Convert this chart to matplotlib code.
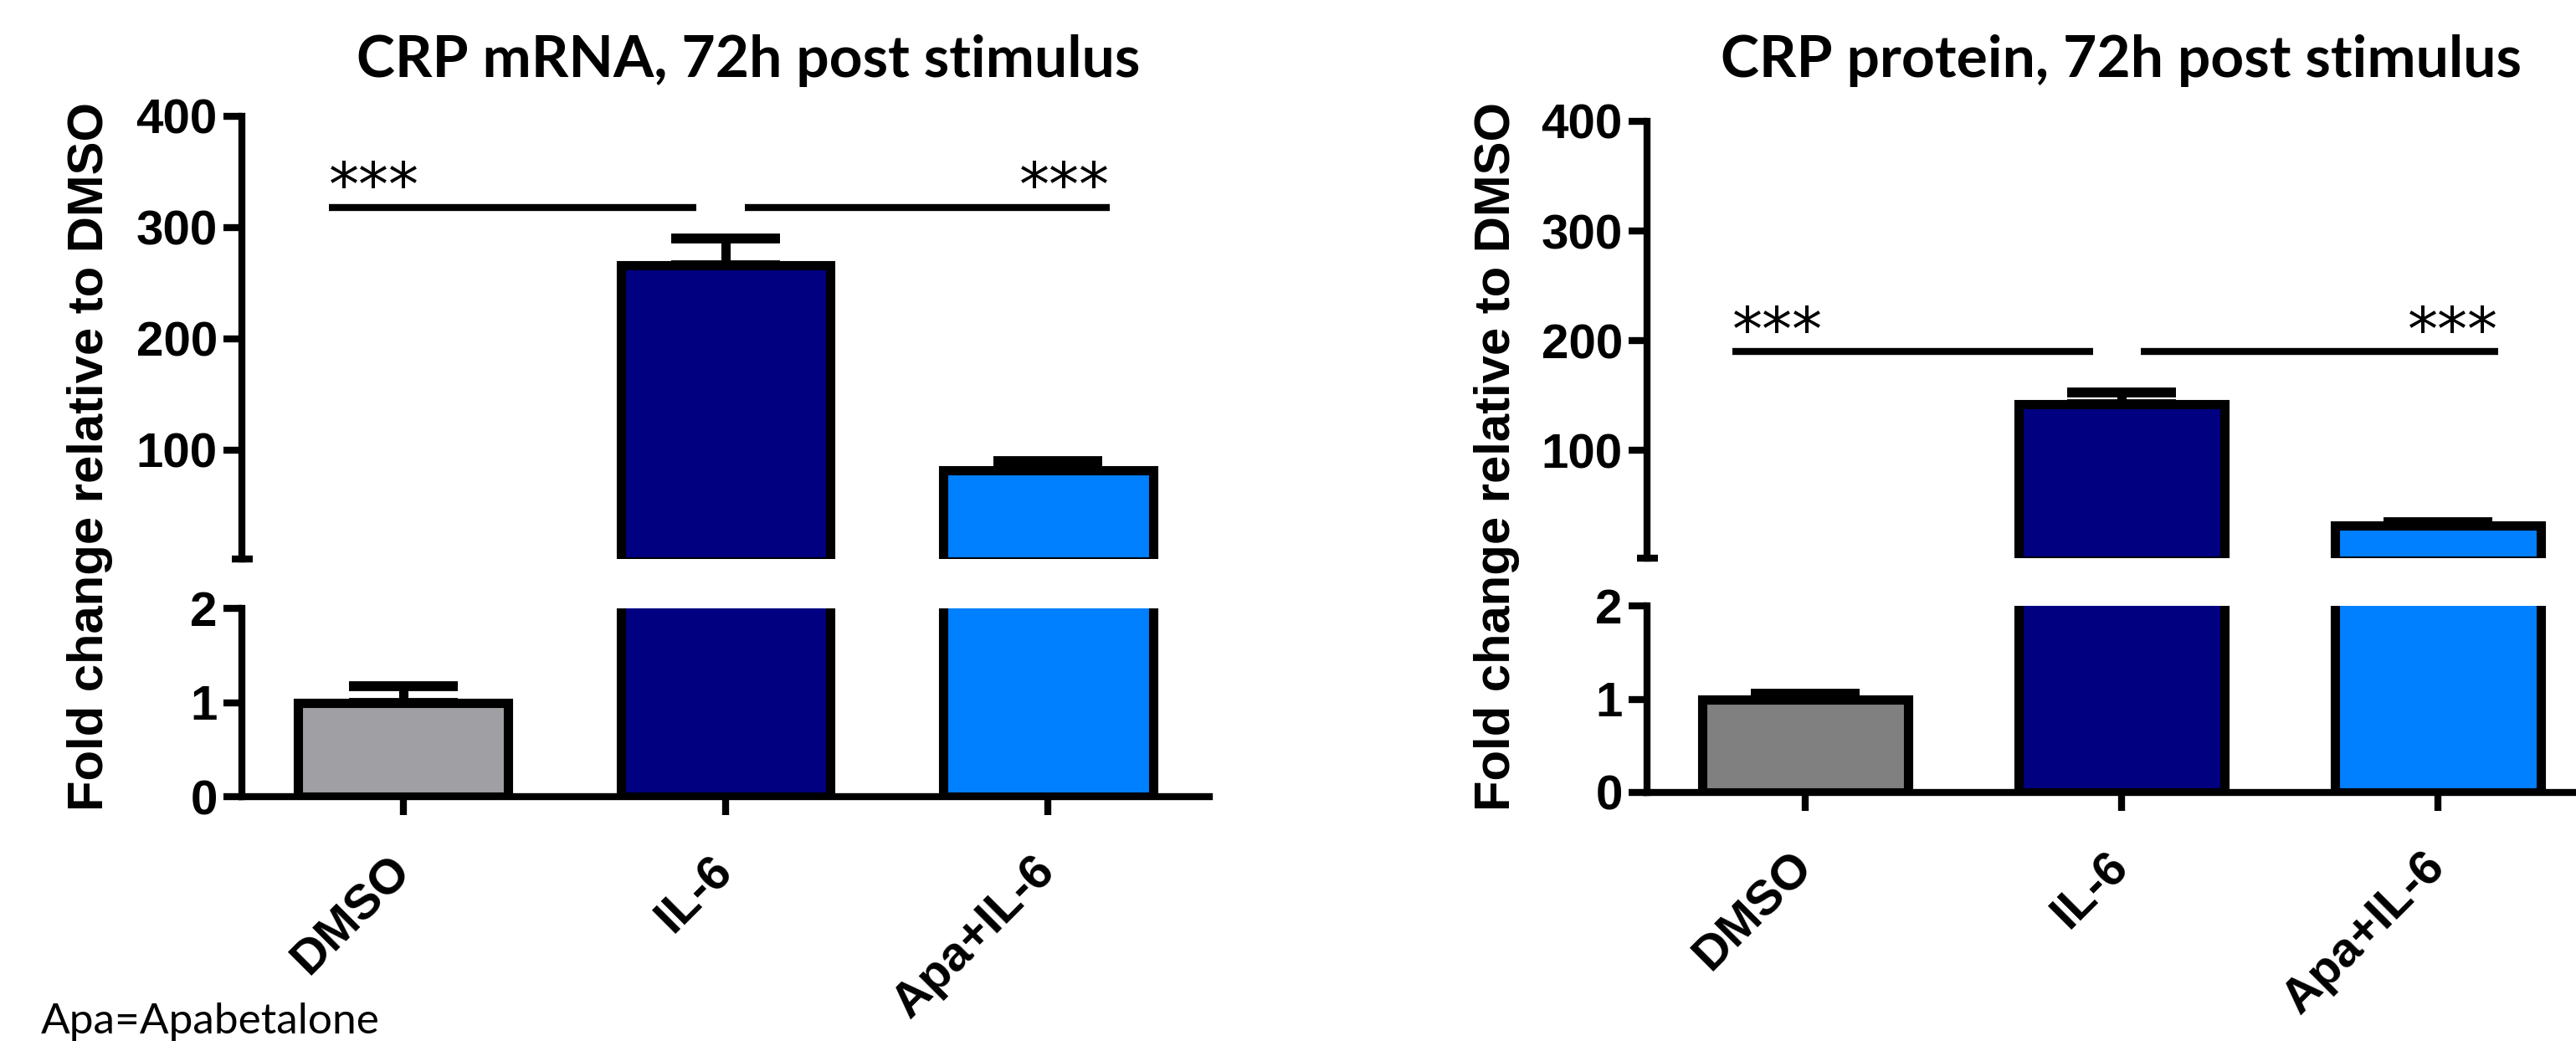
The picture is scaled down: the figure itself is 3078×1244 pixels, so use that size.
import matplotlib
matplotlib.use('Agg')
import matplotlib.pyplot as plt
from matplotlib import font_manager as fm
from matplotlib.ticker import FixedLocator
import numpy as np

# ---------------- data ----------------
groups = ['DMSO', 'IL-6', 'Apa+IL-6']
mrna_mean = [1.0, 266.0, 82.0]
mrna_sem = [0.17, 24.0, 8.0]
protein_mean = [1.0, 142.0, 31.5]
protein_sem = [0.06, 11.0, 3.0]
mrna_colors = ['#A0A0A4', '#000080', '#0080FF']
protein_colors = ['#808080', '#000080', '#0080FF']
upper_ticks = [100, 200, 300, 400]
lower_ticks = [0, 1, 2]
break_value = 2
top_value = 400
titles = ['CRP mRNA, 72h post stimulus', 'CRP protein, 72h post stimulus']
ylabel = 'Fold change relative to DMSO'
sig_label = '***'
sig_pairs = [(0, 1), (1, 2)]
mrna_sig_y = 318
protein_sig_y = 190
footnote = 'Apa=Apabetalone'

# ---------------- fonts ----------------
avail = {f.name for f in fm.fontManager.ttflist}


def pick(*names):
    for n in names:
        if n in avail:
            return n
    return 'DejaVu Sans'


NARROW = pick('Liberation Sans Narrow', 'Liberation Sans')
ARIAL = pick('Liberation Sans', 'DejaVu Sans')
CALIBRI = pick('Lato', 'Open Sans', 'Noto Sans')
ytick_size = 46 if NARROW == 'Liberation Sans Narrow' else 42

# ---------------- layout ----------------
W, H = 3078, 1244
DPI = 100
fig = plt.figure(figsize=(W / DPI, H / DPI), dpi=DPI)


def frac_rect(x0, x1, ytop, ybot):
    return [x0 / W, 1 - ybot / H, (x1 - x0) / W, (ybot - ytop) / H]


panels = [
    dict(x0=289, x1=1445, up=(139, 668), low=(727, 952), title_x=894, ylab_x=108,
         means=mrna_mean, sems=mrna_sem, colors=mrna_colors, sig_y=mrna_sig_y, title=titles[0]),
    dict(x0=1968, x1=3102, up=(145, 667), low=(724, 947), title_x=2535, ylab_x=1788,
         means=protein_mean, sems=protein_sem, colors=protein_colors, sig_y=protein_sig_y, title=titles[1]),
]

LW_AX = 6
for p in panels:
    ax_u = fig.add_axes(frac_rect(p['x0'], p['x1'], *p['up']))
    ax_l = fig.add_axes(frac_rect(p['x0'], p['x1'], *p['low']))
    x = np.arange(len(groups))
    means = np.asarray(p['means'])
    sems = np.asarray(p['sems'])
    colors = np.asarray(p['colors'])

    # lower segment: all bars (clipped at the break)
    # upper segment: only bars that reach above the break
    for ax, mask in ((ax_l, np.ones(len(x), bool)), (ax_u, means > break_value)):
        ax.bar(x[mask], means[mask], width=0.65, color=list(colors[mask]), edgecolor='black',
               linewidth=8, zorder=2)
        ax.errorbar(x[mask], means[mask], yerr=[np.zeros(mask.sum()), sems[mask]], fmt='none',
                    ecolor='black', elinewidth=8, capsize=47, capthick=8.5, zorder=3)
        ax.set_xlim(-0.5, 2.5)
        for s in ('top', 'right'):
            ax.spines[s].set_visible(False)
        ax.spines['left'].set_linewidth(LW_AX)
        ax.spines['bottom'].set_linewidth(LW_AX)
        ax.patch.set_alpha(0)
        ax.tick_params(axis='y', which='major', direction='out', length=16,
                       width=LW_AX, pad=5)

    ax_u.set_ylim(break_value, top_value)
    ax_l.set_ylim(0, break_value)
    ax_u.spines['bottom'].set_visible(False)
    ax_u.set_xticks([])

    ax_u.set_yticks(upper_ticks)
    ax_u.set_yticklabels([str(t) for t in upper_ticks], fontfamily=[NARROW, 'DejaVu Sans'],
                         fontweight='bold', fontsize=ytick_size)
    ax_l.set_yticks(lower_ticks)
    ax_l.set_yticklabels([str(t) for t in lower_ticks], fontfamily=[NARROW, 'DejaVu Sans'],
                         fontweight='bold', fontsize=ytick_size)

    ax_u.yaxis.set_minor_locator(FixedLocator([break_value]))
    ax_u.tick_params(axis='y', which='minor', direction='inout', length=18, width=LW_AX)
    ax_l.yaxis.set_minor_locator(FixedLocator([break_value]))
    ax_l.tick_params(axis='y', which='minor', direction='in', length=9, width=LW_AX)

    ax_l.set_xticks(x)
    ax_l.set_xticklabels(groups, rotation=45, ha='right', va='center', rotation_mode='anchor',
                         fontfamily=[ARIAL, 'DejaVu Sans'], fontweight='bold', fontsize=42)
    ax_l.tick_params(axis='x', direction='out', length=16, width=LW_AX, pad=42)

    # significance bars
    (a0, a1), (b0, b1) = sig_pairs
    ax_u.plot([a0 - 0.23, a1 - 0.09], [p['sig_y']] * 2, color='black', lw=6,
              solid_capstyle='butt', zorder=4)
    ax_u.plot([b0 + 0.06, b1 + 0.19], [p['sig_y']] * 2, color='black', lw=6,
              solid_capstyle='butt', zorder=4)
    ax_u.annotate(sig_label, xy=(a0 - 0.23, p['sig_y']), xytext=(0, 2),
                  textcoords='offset points', ha='left', va='baseline',
                  fontfamily='DejaVu Sans', fontsize=52)
    ax_u.annotate(sig_label, xy=(b1 + 0.19, p['sig_y']), xytext=(0, 2),
                  textcoords='offset points', ha='right', va='baseline',
                  fontfamily='DejaVu Sans', fontsize=52)

    fig.text(p['title_x'] / W, 1 - 92 / H, p['title'], ha='center', va='baseline',
             fontfamily=[CALIBRI, 'DejaVu Sans'], fontweight='bold', fontsize=50)
    fig.text(p['ylab_x'] / W, 1 - 546 / H, ylabel, rotation=90, ha='center', va='center',
             fontfamily=[ARIAL, 'DejaVu Sans'], fontweight='bold', fontsize=43)

fig.text(49 / W, 1 - 1235 / H, footnote, ha='left', va='baseline',
         fontfamily=[CALIBRI, 'DejaVu Sans'], fontsize=37)

fig.savefig('out.png', dpi=DPI)
